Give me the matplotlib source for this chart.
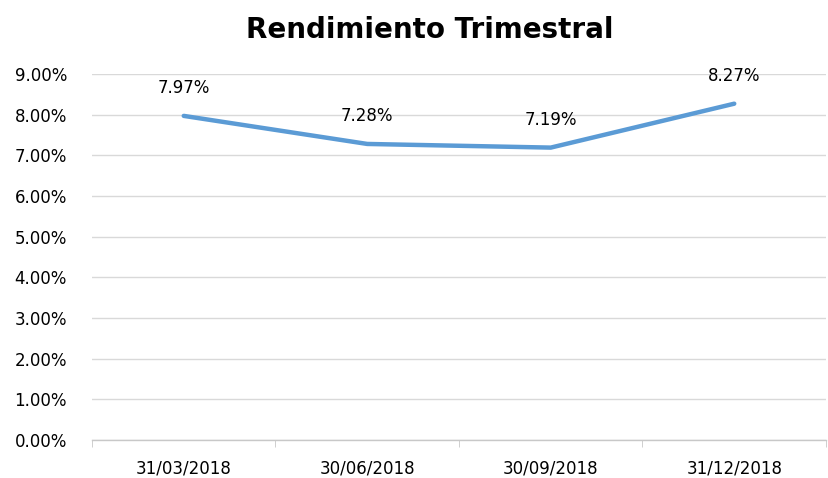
import numpy as np
import matplotlib.pyplot as plt
from matplotlib.ticker import FuncFormatter

# Datos
fechas = ["31/03/2018", "30/06/2018", "30/09/2018", "31/12/2018"]
rendimiento = [7.97, 7.28, 7.19, 8.27]

plt.rcParams["font.family"] = ["DejaVu Sans"]

fig = plt.figure(figsize=(8.29, 4.78), dpi=100)
ax = fig.add_axes([92 / 829, 38 / 478, 734 / 829, 366 / 478])

x = np.arange(len(fechas))
ax.plot(x, rendimiento, color="#5B9BD5", linewidth=3.2, solid_capstyle="round")

for xi, v in zip(x, rendimiento):
    ax.annotate(f"{v:.2f}%", (xi, v), xytext=(0, 20), textcoords="offset points",
                ha="center", va="center", fontsize=12, color="black")

ax.set_xlim(-0.5, len(fechas) - 0.5)
ax.set_ylim(0, 9)
ax.set_yticks(np.arange(0, 10, 1))
ax.yaxis.set_major_formatter(FuncFormatter(lambda v, p: f"{v:.2f}%"))
ax.set_xticks(x)
ax.set_xticklabels(fechas)
ax.set_xticks(np.arange(-0.5, len(fechas), 1), minor=True)

ax.grid(axis="y", color="#D9D9D9", linewidth=1)
ax.set_axisbelow(True)
for s in ["top", "right", "left"]:
    ax.spines[s].set_visible(False)
ax.spines["bottom"].set_color("#C8C8C8")
ax.spines["bottom"].set_linewidth(1)

ax.tick_params(axis="y", length=0, labelsize=12, pad=18)
ax.tick_params(axis="x", which="major", length=0, labelsize=12, pad=14)
ax.tick_params(axis="x", which="minor", length=5, color="#C8C8C8")

fig.text(430 / 829, 1 - 30 / 478, "Rendimiento Trimestral", fontsize=20,
         fontweight="bold", ha="center", va="center")

fig.savefig("out.png", dpi=100)
